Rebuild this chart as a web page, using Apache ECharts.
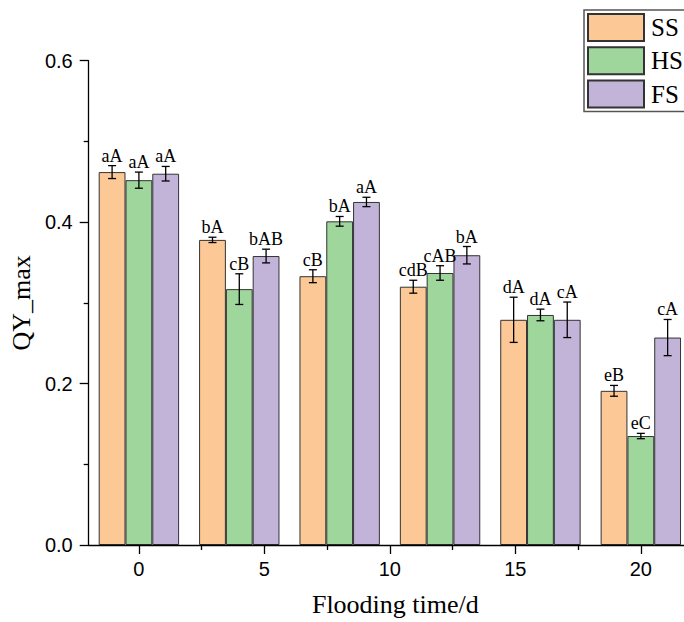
<!DOCTYPE html>
<html>
<head>
<meta charset="utf-8">
<script src="https://cdn.jsdelivr.net/npm/echarts@6/dist/echarts.min.js"></script>
<style>html,body{margin:0;padding:0;background:#fff}#c{width:684px;height:622px}</style>
</head>
<body>
<div id="c"></div>
<script>
const xValues = [0, 4, 8, 12, 16, 20];
const seriesNames = ['SS', 'HS', 'FS'];
const ssValues = [0.462, 0.378, 0.333, 0.320, 0.279, 0.191];
const hsValues = [0.452, 0.317, 0.401, 0.337, 0.285, 0.135];
const fsValues = [0.460, 0.358, 0.425, 0.359, 0.279, 0.257];
const ssErr = [0.008, 0.0033, 0.008, 0.008, 0.028, 0.0067];
const hsErr = [0.010, 0.019, 0.006, 0.009, 0.0072, 0.0033];
const fsErr = [0.009, 0.0085, 0.0058, 0.0108, 0.022, 0.0224];
const ssLabels = ['aA', 'bA', 'cB', 'cdB', 'dA', 'eB'];
const hsLabels = ['aA', 'cB', 'bA', 'cAB', 'dA', 'eC'];
const fsLabels = ['aA', 'bAB', 'aA', 'bA', 'cA', 'cA'];
const xTickValues = [0, 5, 10, 15, 20];
const xMinorTickValues = [2.5, 7.5, 12.5, 17.5];

const colors = ['#FCC896', '#9ED69C', '#C2B3D8'];
const allValues = [ssValues, hsValues, fsValues];
const allErr = [ssErr, hsErr, fsErr];
const allLabels = [ssLabels, hsLabels, fsLabels];

const BAR_W = 26.8;
const serif = '"Liberation Serif", "Times New Roman", serif';
const sans = '"Liberation Sans", Arial, sans-serif';

const chart = echarts.init(document.getElementById('c'), null, {renderer: 'svg'});

const series = [];
seriesNames.forEach((name, si) => {
  series.push({
    name: name,
    type: 'bar',
    xAxisIndex: 0,
    barWidth: BAR_W,
    barGap: '0%',
    data: xValues.map((x, i) => [x, allValues[si][i]]),
    itemStyle: {color: colors[si], borderColor: '#333', borderWidth: 1},
    emphasis: {disabled: true},
    z: 2
  });
});
seriesNames.forEach((name, si) => {
  const offset = (si - 1) * BAR_W;
  series.push({
    type: 'custom',
    xAxisIndex: 0,
    z: 5,
    silent: true,
    data: xValues.map((x, i) => [x, allValues[si][i], allErr[si][i], i]),
    renderItem: function (params, api) {
      const x = api.value(0), v = api.value(1), e = api.value(2), idx = api.value(3);
      const top = api.coord([x, v + e]);
      const bot = api.coord([x, v - e]);
      const cx = top[0] + offset;
      const cap = 4;
      const ls = {stroke: '#000', lineWidth: 1.3};
      return {
        type: 'group',
        children: [
          {type: 'line', shape: {x1: cx, y1: top[1], x2: cx, y2: bot[1]}, style: ls},
          {type: 'line', shape: {x1: cx - cap, y1: top[1], x2: cx + cap, y2: top[1]}, style: ls},
          {type: 'line', shape: {x1: cx - cap, y1: bot[1], x2: cx + cap, y2: bot[1]}, style: ls},
          {type: 'text', style: {text: allLabels[si][idx], x: cx, y: top[1] - 1, align: 'center', verticalAlign: 'bottom', fontFamily: serif, fontSize: 18, fill: '#000'}}
        ]
      };
    }
  });
});

chart.setOption({
  animation: false,
  backgroundColor: '#fff',
  grid: {left: 87.4, right: 0, top: 60.7, bottom: 77},
  legend: {
    data: seriesNames,
    orient: 'vertical',
    left: 584,
    top: 10,
    padding: [3, 40, 3, 3],
    itemWidth: 56,
    itemHeight: 27,
    itemGap: 4.3,
    borderColor: '#555',
    borderWidth: 1.5,
    icon: 'rect',
    textStyle: {fontFamily: serif, fontSize: 25, color: '#000', padding: [0, 0, 0, 2]}
  },
  xAxis: [{
    type: 'value',
    min: -2,
    max: 21.72,
    name: 'Flooding time/d',
    nameLocation: 'middle',
    nameGap: 46,
    nameTextStyle: {fontFamily: serif, fontSize: 26, color: '#000', padding: [0, 0, 0, 18]},
    axisLine: {show: true, onZero: false, lineStyle: {color: '#000', width: 1.3}},
    axisTick: {show: true, length: 9, customValues: xTickValues, lineStyle: {color: '#000', width: 1.3}},
    axisLabel: {customValues: xTickValues, fontFamily: sans, fontSize: 20, color: '#000', margin: 14},
    splitLine: {show: false},
    z: 10
  }, {
    type: 'value',
    min: -2,
    max: 21.72,
    position: 'bottom',
    axisLine: {show: false, onZero: false},
    axisTick: {show: true, length: 5, customValues: xMinorTickValues, lineStyle: {color: '#000', width: 1.3}},
    axisLabel: {show: false},
    splitLine: {show: false}
  }],
  yAxis: {
    type: 'value',
    min: 0,
    max: 0.6,
    interval: 0.2,
    name: 'QY_max',
    nameLocation: 'middle',
    nameGap: 41,
    nameTextStyle: {fontFamily: serif, fontSize: 26, color: '#000'},
    axisLine: {show: true, onZero: false, lineStyle: {color: '#000', width: 1.3}},
    axisTick: {show: true, length: 9, lineStyle: {color: '#000', width: 1.3}},
    minorTick: {show: true, splitNumber: 2, length: 5, lineStyle: {color: '#000', width: 1.3}},
    axisLabel: {fontFamily: sans, fontSize: 20, color: '#000', margin: 16, formatter: v => v.toFixed(1)},
    splitLine: {show: false},
    minorSplitLine: {show: false},
    z: 10
  },
  series: series
});
</script>
</body>
</html>
